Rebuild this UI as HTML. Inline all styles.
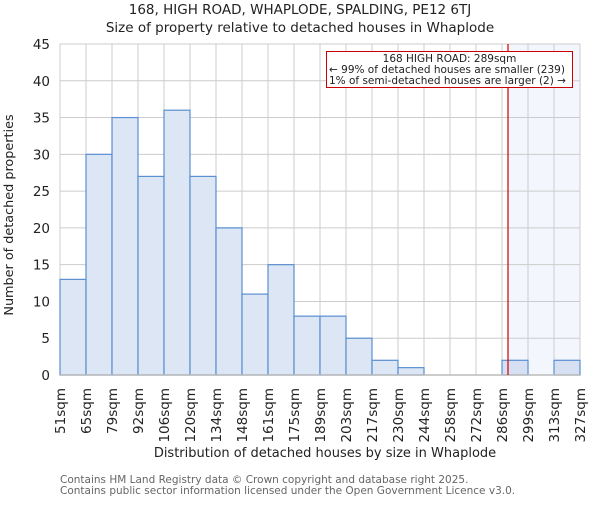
<!DOCTYPE html>
<html><head><meta charset="utf-8"><style>
body{margin:0;background:#fff;}
text{font-family:"DejaVu Sans","Liberation Sans",sans-serif;}
</style></head><body>
<svg id="chart" width="600" height="500" xmlns="http://www.w3.org/2000/svg">
<text x="300" y="14" text-anchor="middle" font-size="13.5" fill="#222">168, HIGH ROAD, WHAPLODE, SPALDING, PE12 6TJ</text>
<text x="300" y="32" text-anchor="middle" font-size="13.5" fill="#222">Size of property relative to detached houses in Whaplode</text>
<g id="plot"></g>
<text x="325" y="457" text-anchor="middle" font-size="13" fill="#222">Distribution of detached houses by size in Whaplode</text>
<text transform="translate(13,215) rotate(-90)" text-anchor="middle" font-size="12.8" fill="#222">Number of detached properties</text>
<text x="60" y="483" font-size="10.5" fill="#666">Contains HM Land Registry data © Crown copyright and database right 2025.</text>
<text x="60" y="494" font-size="10.5" fill="#666">Contains public sector information licensed under the Open Government Licence v3.0.</text>
</svg>
<script>
const categories=["51sqm","65sqm","79sqm","92sqm","106sqm","120sqm","134sqm","148sqm","161sqm","175sqm","189sqm","203sqm","217sqm","230sqm","244sqm","258sqm","272sqm","286sqm","299sqm","313sqm","327sqm"];
const binEdges=[51,65,79,92,106,120,134,148,161,175,189,203,217,230,244,258,272,286,299,313,327];
const counts=[13,30,35,27,36,27,20,11,15,8,8,5,2,1,0,0,0,2,0,2];
const yTicks=[0,5,10,15,20,25,30,35,40,45];
const markerValue=289;
const NS="http://www.w3.org/2000/svg";
const L=60,R=580,T=44,B=375,yMax=45;
const n=counts.length;
function xIdx(i){return L+i*(R-L)/n;}
function xVal(v){for(let i=0;i<binEdges.length-1;i++){if(v<=binEdges[i+1]){return xIdx(i)+(v-binEdges[i])/(binEdges[i+1]-binEdges[i])*(R-L)/n;}}return R;}
function y(v){return B-v/yMax*(B-T);}
const g=document.getElementById('plot');
function mk(tag,attrs){const e=document.createElementNS(NS,tag);for(const k in attrs)e.setAttribute(k,attrs[k]);g.appendChild(e);return e;}
const mx=xVal(markerValue);
let e=mk('rect',{x:mx,y:T,width:R-mx,height:B-T,fill:"#f3f6fd"});


yTicks.forEach(t=>{
 let l=mk('line',{x1:L,x2:R,y1:y(t),y2:y(t),stroke:"#ccc","stroke-width":1});
 
 
 let tx=mk('text',{x:L-10,y:y(t)+5,"text-anchor":"end","font-size":"13.5",fill:"#222"});
 tx.textContent=t;
 
 
});
for(let i=0;i<=n;i++){
 let l=mk('line',{x1:xIdx(i),x2:xIdx(i),y1:T,y2:B,stroke:"#ccc","stroke-width":1});
 
 
}
counts.forEach((c,i)=>{
 if(c<=0)return;
 let r=mk('rect',{x:xIdx(i),y:y(c),width:(R-L)/n,height:B-y(c),fill:i>=17?"#d6e0f2":"#dde6f4",stroke:"#5a8fd0","stroke-width":1.2});
 
 
});
categories.forEach((c,i)=>{
 const xx=xIdx(i)+5;
 let tx=mk('text',{transform:`translate(${xx},388) rotate(-90)`,"text-anchor":"end","font-size":"13.5",fill:"#222"});
 tx.textContent=c;
 
 
});
let ax=mk('line',{x1:L,x2:R,y1:B,y2:B,stroke:"#bbb","stroke-width":1.5});


let ml=mk('line',{x1:mx,x2:mx,y1:T,y2:B,stroke:"#cc0000","stroke-width":1.2});


let box=mk('rect',{x:326.5,y:51.5,width:246,height:36,fill:"#fff",stroke:"#cc0000","stroke-width":1});


const lines=[["168 HIGH ROAD: 289sqm","middle",449.5],["← 99% of detached houses are smaller (239)","start",329],["1% of semi-detached houses are larger (2) →","start",329]];
lines.forEach((ln,k)=>{
 let tx=mk('text',{x:ln[2],y:62+k*11,"text-anchor":ln[1],"font-size":"10.5",fill:"#222"});
 tx.textContent=ln[0];
 
 
});
</script>
</body></html>
